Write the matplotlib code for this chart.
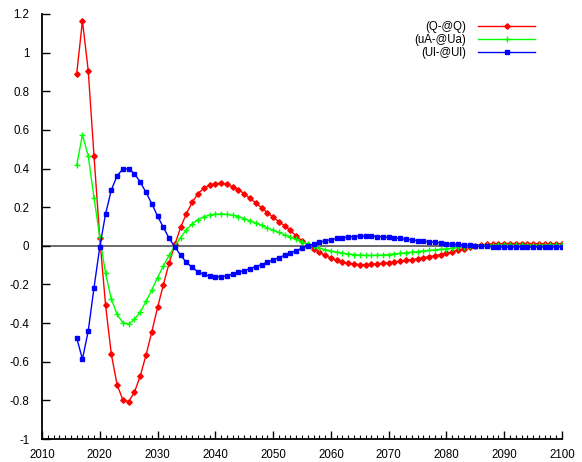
import matplotlib
matplotlib.use("Agg")
import matplotlib.pyplot as plt
from matplotlib.ticker import MultipleLocator

plt.rcParams['font.family'] = ['Liberation Sans', 'DejaVu Sans']

years = list(range(2016, 2101))

# (Q-@Q)
q_vals = [
	0.89, 1.164, 0.907, 0.466, 0.04, -0.307, -0.561, -0.72, -0.797, -0.806,
	-0.758, -0.674, -0.566, -0.446, -0.319, -0.202, -0.09, 0.007, 0.096, 0.167,
	0.225, 0.27, 0.298, 0.314, 0.322, 0.323, 0.318, 0.306, 0.29, 0.27,
	0.245, 0.222, 0.197, 0.172, 0.148, 0.125, 0.103, 0.08, 0.05, 0.027,
	0.005, -0.015, -0.033, -0.05, -0.063, -0.075, -0.084, -0.09, -0.094, -0.097,
	-0.097, -0.096, -0.093, -0.09, -0.087, -0.083, -0.079, -0.075, -0.071, -0.067,
	-0.062, -0.056, -0.051, -0.045, -0.039, -0.031, -0.022, -0.014, -0.006, 0.0,
	0.004, 0.007, 0.009, 0.011, 0.012, 0.012, 0.012, 0.012, 0.012, 0.012,
	0.011, 0.011, 0.011, 0.011, 0.011,
]
# (uA-@Ua)
ua_vals = [
	0.416, 0.575, 0.466, 0.25, 0.045, -0.143, -0.276, -0.355, -0.398, -0.405,
	-0.381, -0.343, -0.288, -0.229, -0.164, -0.105, -0.049, 0.0, 0.043, 0.084,
	0.113, 0.136, 0.15, 0.159, 0.164, 0.165, 0.163, 0.158, 0.151, 0.141,
	0.13, 0.118, 0.106, 0.093, 0.081, 0.069, 0.057, 0.045, 0.033, 0.02,
	0.008, -0.003, -0.012, -0.02, -0.027, -0.033, -0.038, -0.042, -0.045, -0.048,
	-0.05, -0.05, -0.049, -0.047, -0.045, -0.042, -0.039, -0.036, -0.033, -0.03,
	-0.027, -0.024, -0.021, -0.018, -0.015, -0.012, -0.008, -0.005, -0.002, 0.0,
	0.002, 0.003, 0.004, 0.004, 0.004, 0.004, 0.004, 0.004, 0.004, 0.004,
	0.004, 0.004, 0.004, 0.004, 0.004,
]
# (Ul-@Ul)
ul_vals = [
	-0.476, -0.587, -0.441, -0.217, -0.006, 0.165, 0.289, 0.363, 0.397, 0.399,
	0.373, 0.33, 0.277, 0.218, 0.154, 0.096, 0.039, -0.006, -0.049, -0.086,
	-0.112, -0.135, -0.148, -0.157, -0.161, -0.16, -0.155, -0.148, -0.138, -0.128,
	-0.118, -0.108, -0.097, -0.085, -0.073, -0.061, -0.049, -0.037, -0.025, -0.012,
	-0.001, 0.009, 0.018, 0.026, 0.032, 0.038, 0.042, 0.046, 0.048, 0.05,
	0.05, 0.05, 0.048, 0.046, 0.044, 0.041, 0.038, 0.034, 0.031, 0.027,
	0.024, 0.021, 0.018, 0.015, 0.012, 0.009, 0.007, 0.004, 0.002, 0.0,
	-0.002, -0.003, -0.004, -0.005, -0.006, -0.006, -0.006, -0.006, -0.006, -0.006,
	-0.006, -0.006, -0.006, -0.006, -0.006,
]
labels = ["(Q-@Q)", "(uA-@Ua)", "(Ul-@Ul)"]

fig = plt.figure(figsize=(5.82, 4.62), dpi=100)
ax = fig.add_axes([42/582, 23/462, 520/582, 425/462])

ax.axhline(0, color="#606060", lw=1.3, zorder=1)
ax.plot(years, q_vals, color="#ff0000", lw=1.0, marker="D", ms=2.8, label=labels[0], zorder=2)
ax.plot(years, ua_vals, color="#00ff00", lw=1.0, marker="+", ms=5, mew=1.0, label=labels[1], zorder=3)
ax.plot(years, ul_vals, color="#0000ff", lw=1.0, marker="s", ms=2.8, label=labels[2], zorder=4)

ax.set_xlim(2010, 2100)
ax.set_ylim(-1, 1.2)
ax.xaxis.set_major_locator(MultipleLocator(10))
ax.xaxis.set_minor_locator(MultipleLocator(1))
yt = [round(-1 + 0.2*i, 1) for i in range(12)]
ax.set_yticks(yt)
ax.set_yticklabels([("%g" % v) for v in yt])

ax.tick_params(axis="both", which="major", direction="in", length=6, width=1, labelsize=8.3)
ax.tick_params(axis="x", which="minor", direction="in", length=3, width=0.8)
ax.tick_params(axis="x", pad=7)
ax.tick_params(axis="y", pad=9)
ax.spines["top"].set_visible(False)
ax.spines["right"].set_visible(False)
ax.spines["left"].set_linewidth(1.3)
ax.spines["bottom"].set_linewidth(1.3)

ax.legend(loc="upper right", bbox_to_anchor=(540/582, 1 - 16/462), bbox_transform=fig.transFigure,
	frameon=False, markerfirst=False, numpoints=1, handlelength=5.0, handletextpad=1.0,
	labelspacing=0.12, fontsize=8.3, borderaxespad=0)

fig.savefig("out.png", dpi=100)
